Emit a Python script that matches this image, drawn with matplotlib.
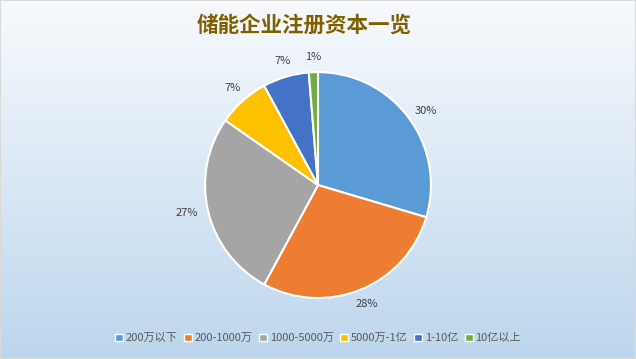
import numpy as np
import matplotlib.pyplot as plt
from matplotlib.patches import Patch

plt.rcParams['font.family'] = ['Noto Sans CJK SC', 'DejaVu Sans']

categories = ["200万以下", "200-1000万", "1000-5000万", "5000万-1亿", "1-10亿", "10亿以上"]
values = [29.6, 28.3, 26.8, 7.4, 6.6, 1.3]
labels = ["30%", "28%", "27%", "7%", "7%", "1%"]
colors = ["#5b9bd5", "#ed7d31", "#a5a5a5", "#ffc000", "#4472c4", "#70ad47"]

# where the data labels sit (pie radius units), like Excel's best-fit placement
label_pos = [(0.956, 0.655), (0.434, -1.053), (-1.159, -0.248),
             (-0.752, 0.858), (-0.310, 1.097), (-0.044, 1.133)]

fig = plt.figure(figsize=(6.36, 3.59), dpi=100)

# background gradient
bg = fig.add_axes([0, 0, 1, 1], zorder=0)
grad = np.linspace(0, 1, 256).reshape(-1, 1)
top = np.array([0.97, 0.98, 0.99])
bottom = np.array([0.74, 0.84, 0.93])
img = top + (bottom - top) * grad[..., None]
bg.imshow(img, aspect="auto", extent=[0, 1, 0, 1])
bg.set_axis_off()
bg.add_patch(plt.Rectangle((0, 0), 1, 1, transform=bg.transAxes, fill=False,
                           edgecolor="#d9d9d9", linewidth=1.5))

ax = fig.add_axes([0.5 - 0.222, 0.091, 0.444, 0.787], zorder=1)
ax.set_facecolor("none")
wedges, texts = ax.pie(values, colors=colors, startangle=90, counterclock=False,
                       labels=labels, labeldistance=1.13,
                       wedgeprops=dict(edgecolor="white", linewidth=1.5),
                       textprops=dict(color="#404040", fontsize=8))
for t, pos in zip(texts, label_pos):
    t.set_position(pos)
    t.set_ha("center")
    t.set_va("center")
ax.set_xlim(-1.25, 1.25)
ax.set_ylim(-1.25, 1.25)
ax.set_aspect("equal")

fig.text(0.478, 0.93, "储能企业注册资本一览", ha="center", va="center",
         fontsize=15.5, fontweight="bold", color="#7f6000")

handles = [Patch(facecolor=c, edgecolor="white", linewidth=1) for c in colors]
fig.legend(handles, categories, loc="center", bbox_to_anchor=(0.5, 0.058), ncol=6,
           frameon=False, fontsize=8, handlelength=0.7, handleheight=0.7,
           handletextpad=0.25, columnspacing=0.6, labelcolor="#595959")

fig.savefig("out.png", dpi=100)
